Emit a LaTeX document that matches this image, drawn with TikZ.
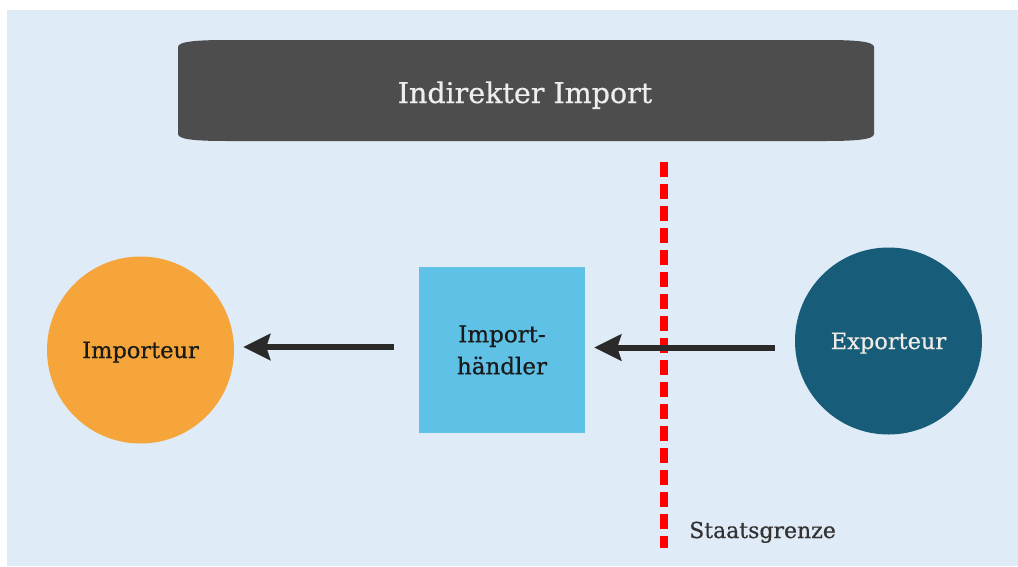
\documentclass[tikz,border=0pt]{standalone}
\usepackage{fontspec}
\setmainfont{DejaVu Serif}[FakeBold=0.6]
\usetikzlibrary{arrows.meta,calc}
\definecolor{bgblue}{HTML}{DFEBF7}
\definecolor{bannergray}{HTML}{4D4D4D}
\definecolor{titletext}{HTML}{EEEEEE}
\definecolor{orangefill}{HTML}{F5A53A}
\definecolor{skyfill}{HTML}{5EC1E5}
\definecolor{petrolfill}{HTML}{175C78}
\definecolor{arrowdark}{HTML}{2A2A2A}
\definecolor{darktext}{HTML}{1A1A1A}
\definecolor{lighttext}{HTML}{EEEBE8}
\definecolor{labeltext}{HTML}{333333}
\tikzset{
  actor/.style={circle, minimum size=187pt, inner sep=0pt, draw=none,
    font=\fontsize{22.5}{26}\selectfont, text height=16pt, text depth=0pt},
  boxnode/.style={rectangle, minimum size=166pt, inner sep=0pt, draw=none,
    fill=skyfill, text=darktext, align=center, font=\fontsize{23}{32}\selectfont},
  flowarrow/.style={draw=arrowdark, line width=6pt,
    -{Stealth[length=27pt, width=26pt, inset=4pt]}},
  borderline/.style={draw=red, line width=8pt, dash pattern=on 15pt off 7pt},
  titlenode/.style={text=titletext, font=\fontsize{28.5}{32}\selectfont,
    text height=22pt, text depth=0pt, inner sep=0pt},
  bordertext/.style={text=labeltext, font=\fontsize{22}{26}\selectfont, inner sep=0pt}
}
\begin{document}
\begin{tikzpicture}[x=1pt, y=-1pt]
\useasboundingbox (0,0) rectangle (1018,566);
\fill[white] (0,0) rectangle (1018,566);
\fill[bgblue] (7,10) rectangle (1018,566);
% banner
\fill[bannergray] (178,134) -- (178,47) .. controls (178,41) and (200,40) .. (228,40)
  -- (824,40) .. controls (852,40) and (874,41) .. (874,47)
  -- (874,134) .. controls (874,140) and (852,141) .. (824,141)
  -- (228,141) .. controls (200,141) and (178,140) .. (178,134) -- cycle;
\node[titlenode] (title) at (525,92) {Indirekter Import};
% actors
\node[actor, fill=orangefill, text=darktext] (importeur) at (140.5,350) {Importeur};
\node[boxnode] (handler) at (502,350) {Import-\\händler};
\node[actor, fill=petrolfill, text=lighttext] (exporteur) at (888.5,341) {Exporteur};
% border
\coordinate (btop) at (664,162);
\coordinate (bbot) at (664,548);
\draw[borderline] (btop) -- (bbot);
\node[bordertext, anchor=base west] (grenze) at (689,538) {Staatsgrenze};
% arrows
\draw[flowarrow] ($(exporteur.west)+(-20,6.5)$) -- ($(handler.east)+(9,-2.5)$);
\draw[flowarrow] ($(handler.west)+(-25,-3)$) -- ($(importeur.east)+(9,-3)$);
\end{tikzpicture}
\end{document}
